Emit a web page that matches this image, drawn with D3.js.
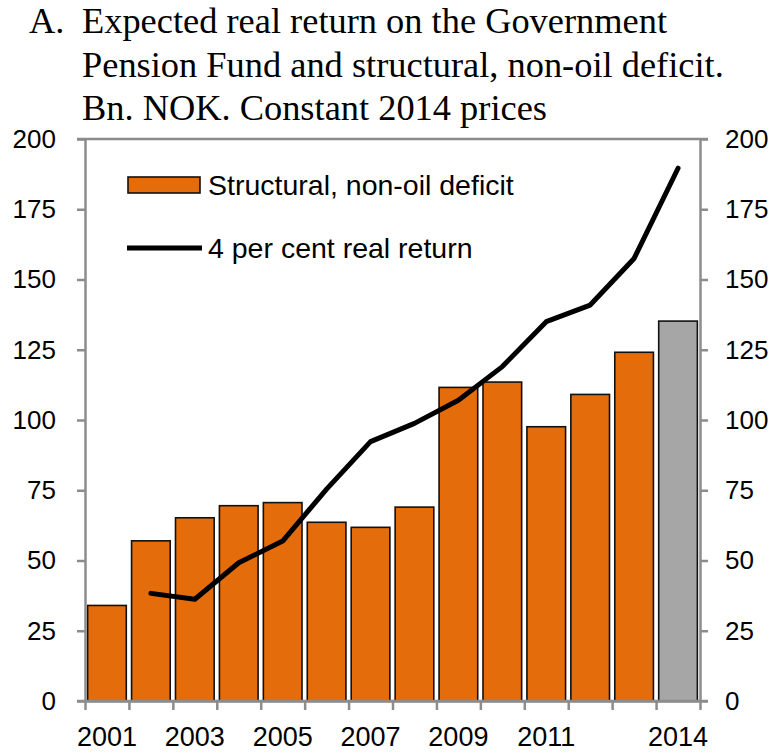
<!DOCTYPE html>
<html>
<head>
<meta charset="utf-8">
<script src="https://cdn.jsdelivr.net/npm/d3@7"></script>
<style>
  html, body { margin: 0; padding: 0; background: #fff; }
  svg { display: block; }
  .tick text { font-family: "Liberation Sans", Arial, sans-serif; fill: #000; }
</style>
</head>
<body>
<svg id="chart" width="776" height="754"></svg>
<script>
const years = ["2001", "2002", "2003", "2004", "2005", "2006", "2007", "2008", "2009", "2010", "2011", "2012", "2013", "2014"];
const deficit = [34, 57, 65.2, 69.5, 70.6, 63.6, 61.8, 69, 111.6, 113.5, 97.6, 109.1, 124.1, 135.2];
const realReturn = [null, 38.3, 36.2, 49.2, 56.9, 75.4, 92.3, 98.8, 107, 119, 135, 140.9, 157.5, 189.6];
const xLabels = ["2001", "2003", "2005", "2007", "2009", "2011", "2014"];
const yTicks = [0, 25, 50, 75, 100, 125, 150, 175, 200];
const titleLines = [
  "Expected real return on the Government",
  "Pension Fund and structural, non-oil deficit.",
  "Bn. NOK. Constant 2014 prices",
];

const svg = d3.select("#chart");
const plot = { left: 85, right: 700, top: 139, bottom: 701 };
const axisColor = "#8c8c8c";
const orange = "#e46c0a";
const grey = "#a6a6a6";

const x = d3.scaleBand().domain(years).range([plot.left, plot.right]).paddingInner(0.12).paddingOuter(0.06);
const xEdge = d3.scaleLinear().domain([0, years.length]).range([plot.left, plot.right]);
const y = d3.scaleLinear().domain([0, 200]).range([plot.bottom, plot.top]);

// title
const title = svg.append("text")
  .attr("font-family", "'Liberation Serif', 'Times New Roman', serif")
  .attr("font-size", 36.4)
  .attr("fill", "#000");
title.append("tspan").attr("x", 29).attr("y", 33).text("A.");
title.append("tspan").attr("x", 82).attr("y", 33).text(titleLines[0]);
title.append("tspan").attr("x", 82).attr("y", 77).text(titleLines[1]);
title.append("tspan").attr("x", 82).attr("y", 120).text(titleLines[2]);

// bars
svg.append("g")
  .selectAll("rect")
  .data(years)
  .join("rect")
  .attr("x", (d) => x(d))
  .attr("width", x.bandwidth())
  .attr("y", (d, i) => y(deficit[i]))
  .attr("height", (d, i) => y(0) - y(deficit[i]))
  .attr("fill", (d) => (d === "2014" ? grey : orange))
  .attr("stroke", "#111")
  .attr("stroke-width", 1.6);

// line
const line = d3.line()
  .defined((d) => d.v != null)
  .x((d) => x(d.year) + x.bandwidth() / 2)
  .y((d) => y(d.v));
svg.append("path")
  .datum(years.map((year, i) => ({ year, v: realReturn[i] })))
  .attr("fill", "none")
  .attr("stroke", "#000")
  .attr("stroke-width", 5)
  .attr("stroke-linejoin", "round")
  .attr("stroke-linecap", "round")
  .attr("d", line);

// axes
const styleAxis = (g) => {
  g.select(".domain").attr("stroke", axisColor).attr("stroke-width", 2.5);
  g.selectAll(".tick line").attr("stroke", axisColor).attr("stroke-width", 2.5);
  g.selectAll(".tick text").attr("font-size", 26);
};

svg.append("g")
  .attr("transform", `translate(${plot.left},0)`)
  .call(d3.axisLeft(y).tickValues(yTicks).tickSize(8).tickSizeOuter(0).tickPadding(21))
  .call(styleAxis);

svg.append("g")
  .attr("transform", `translate(${plot.right},0)`)
  .call(d3.axisRight(y).tickValues(yTicks).tickSize(8).tickSizeOuter(0).tickPadding(17))
  .call(styleAxis);

svg.append("g")
  .attr("transform", `translate(0,${plot.bottom})`)
  .call(d3.axisBottom(xEdge).tickValues(d3.range(years.length + 1)).tickSize(9).tickSizeOuter(0).tickFormat(""))
  .call(styleAxis);

// top and bottom frame lines
[plot.top, plot.bottom].forEach((yy) => {
  svg.append("line")
    .attr("x1", plot.left - 8).attr("x2", plot.right + 8)
    .attr("y1", yy).attr("y2", yy)
    .attr("stroke", axisColor).attr("stroke-width", 2.5);
});

// x labels
svg.append("g")
  .selectAll("text")
  .data(xLabels)
  .join("text")
  .attr("x", (d) => x(d) + x.bandwidth() / 2)
  .attr("y", 746)
  .attr("text-anchor", "middle")
  .attr("font-family", "'Liberation Sans', Arial, sans-serif")
  .attr("font-size", 27)
  .text((d) => d);

// legend
const legend = svg.append("g")
  .attr("font-family", "'Liberation Sans', Arial, sans-serif")
  .attr("font-size", 28.5);
legend.append("rect")
  .attr("x", 128).attr("y", 177).attr("width", 72).attr("height", 16)
  .attr("fill", orange).attr("stroke", "#111").attr("stroke-width", 1.6);
legend.append("text").attr("x", 208).attr("y", 195).text("Structural, non-oil deficit");
legend.append("line")
  .attr("x1", 127).attr("x2", 202).attr("y1", 248).attr("y2", 248)
  .attr("stroke", "#000").attr("stroke-width", 5);
legend.append("text").attr("x", 208).attr("y", 258).text("4 per cent real return");
</script>
</body>
</html>
